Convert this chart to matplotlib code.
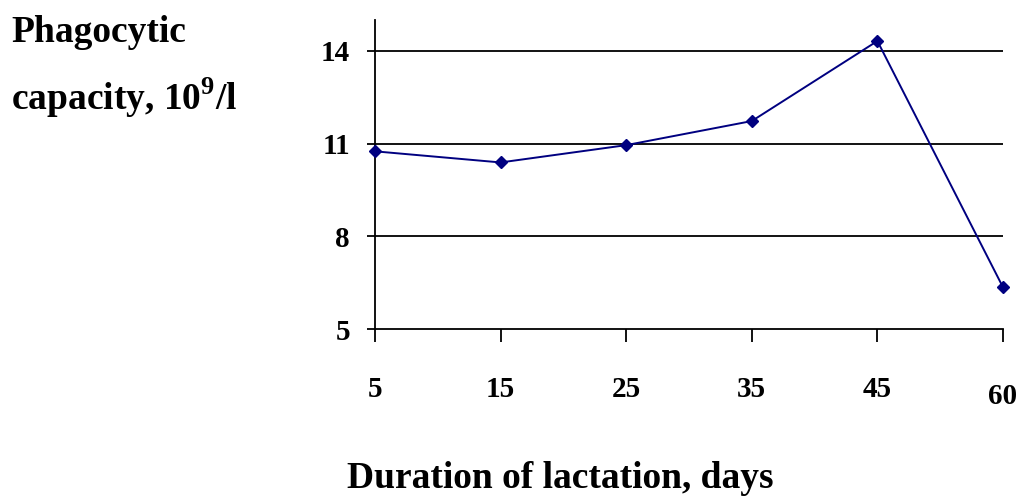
import matplotlib.pyplot as plt

days = ["5", "15", "25", "35", "45", "60"]
capacity = [10.75, 10.39, 10.95, 11.73, 14.32, 6.35]
yticks = [5, 8, 11, 14]

plt.rcParams['font.family'] = ['Liberation Serif', 'DejaVu Serif']
plt.rcParams['font.weight'] = 'bold'
plt.rcParams['mathtext.fontset'] = 'custom'
plt.rcParams['mathtext.rm'] = 'Liberation Serif:bold'
plt.rcParams['mathtext.bf'] = 'Liberation Serif:bold'

fig = plt.figure(figsize=(10.2, 4.97), dpi=100)
ax = fig.add_axes([375 / 1020, 1 - 329 / 497, 628 / 1020, 309 / 497])

x = list(range(len(days)))
ax.plot(x, capacity, color='#000080', lw=1.4, marker='D', ms=6.5,
        markerfacecolor='#000080', markeredgecolor='#000080', clip_on=False, zorder=3)

ax.set_xlim(0, len(days) - 1)
ax.set_ylim(5, 15)
ax.set_yticks(yticks)
ax.set_yticklabels([str(v) for v in yticks], fontsize=21, fontweight='bold')
for v in yticks[1:]:
    ax.axhline(v, color='black', lw=1.3, zorder=1)

ax.set_xticks(x)
ax.set_xticklabels(days, fontsize=21, fontweight='bold')
ax.tick_params(axis='x', direction='out', length=9, width=1.3, pad=25)
ax.tick_params(axis='y', direction='out', length=6, width=1.3, pad=12)
# last label sits a bit lower in the original
ax.get_xticklabels()[-1].set_y(-0.022)

for s in ['top', 'right']:
    ax.spines[s].set_visible(False)
ax.spines['left'].set_linewidth(1.3)
ax.spines['bottom'].set_linewidth(1.3)

fig.text(560 / 1020, 1 - 478 / 497, "Duration of lactation, days", ha='center', va='center',
         fontsize=27, fontweight='bold')
fig.text(11 / 1020, 1 - 33 / 497, "Phagocytic", ha='left', va='center',
         fontsize=27, fontweight='bold')
fig.text(11 / 1020, 1 - 98 / 497, r"capacity, 10$^{9}$/l", ha='left', va='center',
         fontsize=27, fontweight='bold')

fig.savefig("out.png", dpi=100)
